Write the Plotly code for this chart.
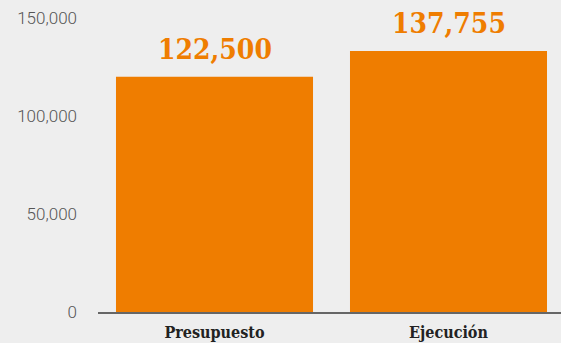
import plotly.graph_objects as go

categories = ["Presupuesto", "Ejecución"]
bar_values = [120200, 133400]          # bar heights as drawn in the picture
value_labels = ["122,500", "137,755"]  # labels printed above the bars
y_ticks = [0, 50000, 100000, 150000]

ORANGE = "#EF7D00"
BG = "#EEEEEE"

fig = go.Figure()
fig.add_trace(go.Bar(
    x=categories, y=bar_values,
    marker=dict(color=ORANGE, line=dict(width=0)),
    hoverinfo="skip",
))

for c, v, t in zip(categories, bar_values, value_labels):
    fig.add_annotation(
        x=c, y=v, text=t, showarrow=False, yanchor="bottom", yshift=9,
        font=dict(family="DejaVu Serif Condensed", size=28, color=ORANGE, weight="bold"),
    )

H = 343
zero_px = 312.5
px_per_150k = 294
ymax = 150000 * zero_px / px_per_150k

fig.update_layout(
    width=561, height=H,
    margin=dict(l=98, r=0, t=0, b=H - zero_px),
    paper_bgcolor=BG, plot_bgcolor=BG,
    bargap=0.158,
    showlegend=False,
    xaxis=dict(
        range=[-0.4979, 1.4808],
        showline=True, linecolor="#666666", linewidth=1.5,
        showgrid=False, zeroline=False, ticks="",
        tickfont=dict(family="DejaVu Serif Condensed", size=16, color="#222222", weight="bold"),
        ticklabelstandoff=5,
        fixedrange=True,
    ),
    yaxis=dict(
        range=[0, ymax],
        tickvals=y_ticks, tickformat=",",
        showline=False, showgrid=False, zeroline=False, ticks="",
        tickfont=dict(family="Roboto", size=17, color="#555555", weight=300),
        ticklabelstandoff=20,
        fixedrange=True,
    ),
)

fig.write_html("out.html", config={"displayModeBar": False})
